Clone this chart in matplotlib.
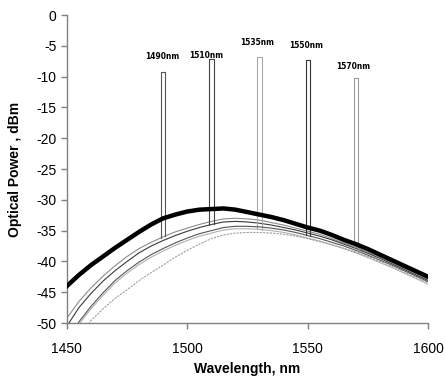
import numpy as np
import matplotlib
matplotlib.use("Agg")
import matplotlib.pyplot as plt

plt.rcParams['font.family'] = ['Liberation Sans', 'DejaVu Sans']
plt.rcParams['axes.unicode_minus'] = False

# wavelength grid (nm)
wl = [1450, 1455, 1460, 1465, 1470, 1475, 1480, 1485, 1490, 1495, 1500,
      1505, 1510, 1515, 1520, 1525, 1530, 1535, 1540, 1545, 1550, 1555,
      1560, 1565, 1570, 1575, 1580, 1585, 1590, 1595, 1600]

# broadband (ASE) envelopes, dBm
total = [-44.0, -42.2, -40.6, -39.2, -37.8, -36.5, -35.2, -34.0, -33.0, -32.4, -31.9,
         -31.6, -31.5, -31.4, -31.6, -32.0, -32.4, -32.8, -33.3, -33.9, -34.5, -35.0,
         -35.7, -36.5, -37.2, -38.0, -38.9, -39.8, -40.7, -41.6, -42.5]
ch1490 = [-49.2, -46.5, -44.3, -42.4, -40.7, -39.2, -37.9, -36.9, -36.0, -35.2, -34.6,
          -34.0, -33.5, -33.1, -33.0, -33.1, -33.3, -33.7, -34.1, -34.6, -35.1, -35.6,
          -36.3, -37.0, -37.7, -38.5, -39.3, -40.2, -41.1, -42.0, -42.9]
ch1510 = [-50.5, -47.5, -45.2, -43.2, -41.5, -40.0, -38.6, -37.5, -36.6, -35.8, -35.1,
          -34.5, -34.0, -33.6, -33.5, -33.6, -33.8, -34.1, -34.5, -34.9, -35.4, -35.9,
          -36.5, -37.2, -37.9, -38.7, -39.5, -40.4, -41.3, -42.2, -43.1]
ch1535 = [-53.4, -50.2, -47.7, -45.5, -43.5, -41.9, -40.5, -39.3, -38.3, -37.4, -36.6,
          -35.9, -35.4, -34.9, -34.7, -34.7, -34.8, -35.0, -35.3, -35.7, -36.2, -36.7,
          -37.3, -37.9, -38.6, -39.4, -40.2, -41.0, -41.9, -42.8, -43.7]
ch1550 = [-53.0, -49.8, -47.3, -45.1, -43.1, -41.5, -40.1, -38.9, -37.9, -37.0, -36.2,
          -35.5, -35.0, -34.5, -34.3, -34.3, -34.4, -34.6, -34.9, -35.3, -35.8, -36.3,
          -36.9, -37.5, -38.2, -39.0, -39.8, -40.6, -41.5, -42.4, -43.3]
ch1570 = [-55.0, -52.5, -49.6, -47.7, -46.0, -44.6, -43.1, -41.8, -40.6, -39.3, -38.2,
          -37.2, -36.3, -35.7, -35.4, -35.3, -35.3, -35.4, -35.6, -35.9, -36.3, -36.8,
          -37.3, -37.9, -38.5, -39.2, -40.0, -40.8, -41.7, -42.6, -43.5]

# channel peaks
peak_wl = [1490, 1510, 1530, 1550, 1570]
peak_top = [-9.2, -7.2, -6.8, -7.3, -10.2]
peak_labels = ['1490nm', '1510nm', '1535nm', '1550nm', '1570nm']
label_y = [-6.8, -6.5, -4.5, -5.0, -8.3]
label_x = [1489.4, 1508.0, 1528.8, 1549.2, 1568.7]

chans = [ch1490, ch1510, ch1535, ch1550, ch1570]
colors = ['#8c8c8c', '#3a3a3a', '#b0b0b0', '#555555', '#a0a0a0']
peak_colors = ['#555555', '#444444', '#aaaaaa', '#333333', '#999999']
styles = ['-', '-', '-', '-', (0, (2, 1))]

fig = plt.figure(figsize=(4.46, 3.85), dpi=100)
ax = fig.add_axes([0.150, 0.161, 0.810, 0.800])

half = 0.9  # half width of a peak, nm
for vals, c, pc, ls, pw, pt in zip(chans, colors, peak_colors, styles, peak_wl, peak_top):
    ax.plot(wl, vals, color=c, lw=0.8, ls=ls, zorder=2)
    x0, x1 = pw - half, pw + half
    f0, f1 = np.interp([x0, x1], wl, vals)
    ax.plot([x0, x0, x1, x1], [f0, pt, pt, f1], color=pc, lw=0.8, zorder=2)

ax.plot(wl, total, color='black', lw=3.2, zorder=3, solid_joinstyle='round')

for x, y, s in zip(label_x, label_y, peak_labels):
    ax.text(x, y, s, ha='center', va='center', fontsize=6, fontweight='bold',
            family=['Liberation Sans Narrow', 'DejaVu Sans'], stretch='condensed')

ax.set_xlim(1450, 1600)
ax.set_ylim(-50, 0)
ax.set_xticks([1450, 1500, 1550, 1600])
ax.set_yticks(range(-50, 1, 5))
ax.tick_params(axis='both', labelsize=10, color='#808080', length=4, width=1)
ax.tick_params(axis='x', pad=10)
for s in ['top', 'right']:
    ax.spines[s].set_visible(False)
for s in ['left', 'bottom']:
    ax.spines[s].set_color('#808080')
    ax.spines[s].set_linewidth(1)

ax.set_xlabel('Wavelength, nm', fontsize=10, fontweight='bold', labelpad=4)
ax.set_ylabel('Optical Power , dBm', fontsize=10, fontweight='bold', labelpad=10)

fig.savefig('out.png', dpi=100)
